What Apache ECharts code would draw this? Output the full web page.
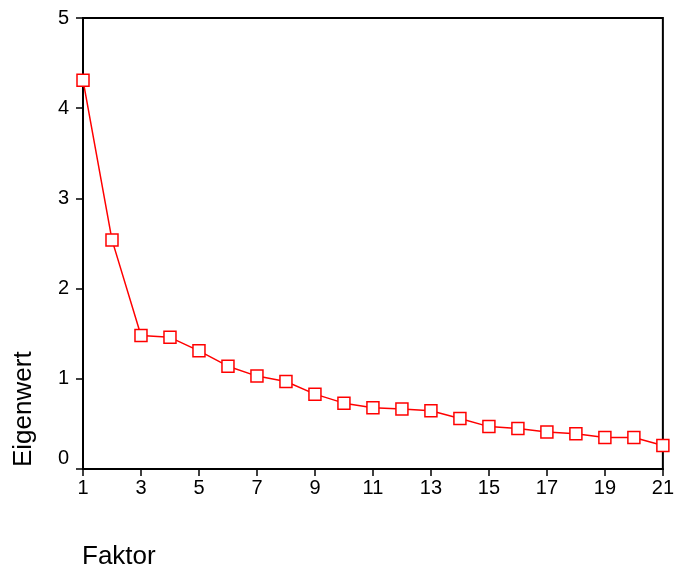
<!DOCTYPE html>
<html><head><meta charset="utf-8">
<script src="https://cdn.jsdelivr.net/npm/echarts@6/dist/echarts.min.js"></script>
<style>html,body{margin:0;padding:0;background:#fff}#c{width:677px;height:569px}</style>
</head><body><div id="c"></div>
<script>
const factors = [1,2,3,4,5,6,7,8,9,10,11,12,13,14,15,16,17,18,19,20,21];
const eigenvalues = [4.31,2.54,1.48,1.46,1.31,1.14,1.03,0.97,0.83,0.73,0.68,0.665,0.645,0.56,0.47,0.45,0.41,0.39,0.35,0.35,0.26];
const xTicks = [1,3,5,7,9,11,13,15,17,19,21];
const yTicks = [0,1,2,3,4,5];
const xTitle = 'Faktor';
const yTitle = 'Eigenwert';

const font = '"Liberation Sans", Arial, sans-serif';
const chart = echarts.init(document.getElementById('c'));
chart.setOption({
  animation: false,
  backgroundColor: '#fff',
  grid: {left: 83, right: 12, top: 18, bottom: 100, show: true, borderColor: '#000', borderWidth: 2, backgroundColor: 'transparent'},
  xAxis: {
    type: 'value', min: 1, max: 21, interval: 2,
    axisLine: {lineStyle: {color: '#000', width: 2}},
    axisTick: {length: 7, lineStyle: {color: '#000', width: 1.5}},
    splitLine: {show: false},
    axisLabel: {color: '#000', fontSize: 20, fontFamily: font, margin: 9,
      formatter: v => xTicks.includes(v) ? String(v) : ''}
  },
  yAxis: {
    type: 'value', min: 0, max: 5, interval: 1,
    axisLine: {show: true, lineStyle: {color: '#000', width: 2}},
    axisTick: {show: true, length: 7, lineStyle: {color: '#000', width: 1.5}},
    splitLine: {show: false},
    axisLabel: {color: '#000', fontSize: 20, fontFamily: font, margin: 14,
      formatter: v => v === 0 ? '{z|0}' : (yTicks.includes(v) ? String(v) : ''),
      rich: {z: {fontSize: 20, fontFamily: font, color: '#000', padding: [0, 0, 22, 0]}}}
  },
  graphic: [
    {type: 'text', left: 82, top: 544, style: {text: xTitle, font: '26px ' + font, fill: '#000'}},
    {type: 'text', x: 11, y: 467, rotation: Math.PI / 2, style: {text: yTitle, font: '26px ' + font, fill: '#000', textAlign: 'left', textVerticalAlign: 'top'}}
  ],
  series: [{
    type: 'line',
    data: factors.map((f, i) => [f, eigenvalues[i]]),
    symbol: 'rect', symbolSize: 12, showSymbol: true,
    lineStyle: {color: '#ff0000', width: 1.5},
    itemStyle: {color: '#fff', borderColor: '#ff0000', borderWidth: 1.5},
    z: 3
  }]
});
</script></body></html>
